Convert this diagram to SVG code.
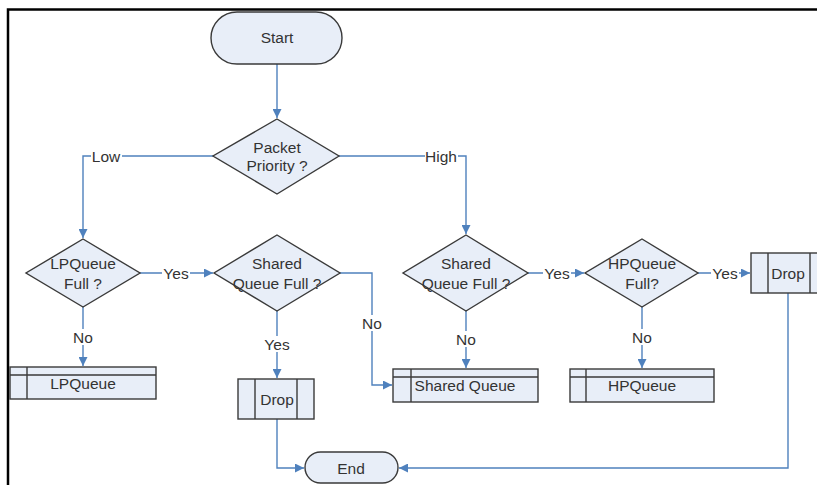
<svg xmlns="http://www.w3.org/2000/svg" width="817" height="485" viewBox="0 0 817 485">
<defs>
<style>
.shape{fill:#e8eef8;stroke:#3a3a3a;stroke-width:1.4}
.inner{fill:none;stroke:#3a3a3a;stroke-width:1.4}
.conn{fill:none;stroke:#4f81bd;stroke-width:1.4}
.t{font-family:"Liberation Sans",Arial,sans-serif;font-size:15.5px;fill:#333;text-anchor:middle;dominant-baseline:central}
.lbl{font-family:"Liberation Sans",Arial,sans-serif;font-size:15.5px;fill:#333;text-anchor:middle;dominant-baseline:central}
.bg{fill:#fff}
</style>
<marker id="ah" viewBox="0 0 10 10" refX="10" refY="5" markerWidth="9" markerHeight="9" markerUnits="userSpaceOnUse" orient="auto">
<path d="M0,0 L10,5 L0,10 z" fill="#4f81bd"/>
</marker>
</defs>
<rect width="817" height="485" fill="#fff"/>
<path d="M8,485 V9.5 H817" fill="none" stroke="#000" stroke-width="2.5"/>

<g id="connectors">
<path class="conn" d="M277,64 V118" marker-end="url(#ah)"/>
<path class="conn" d="M213,156 H83 V238" marker-end="url(#ah)"/>
<path class="conn" d="M339,156 H466 V234" marker-end="url(#ah)"/>
<path class="conn" d="M140,273 H213" marker-end="url(#ah)"/>
<path class="conn" d="M83,307 V366" marker-end="url(#ah)"/>
<path class="conn" d="M277,311 V378" marker-end="url(#ah)"/>
<path class="conn" d="M340,273 H372 V385 H392" marker-end="url(#ah)"/>
<path class="conn" d="M528,273 H584" marker-end="url(#ah)"/>
<path class="conn" d="M698,273 H750" marker-end="url(#ah)"/>
<path class="conn" d="M466,311 V368" marker-end="url(#ah)"/>
<path class="conn" d="M642,307 V368" marker-end="url(#ah)"/>
<path class="conn" d="M277,419 V468 H304" marker-end="url(#ah)"/>
<path class="conn" d="M788,293 V468 H399" marker-end="url(#ah)"/>
<rect class="bg" x="91" y="148" width="31" height="16"/>
<text class="lbl" x="106" y="156">Low</text>
<rect class="bg" x="425" y="148" width="33" height="16"/>
<text class="lbl" x="441" y="156">High</text>
<rect class="bg" x="162" y="265" width="28" height="16"/>
<text class="lbl" x="176" y="273">Yes</text>
<rect class="bg" x="543" y="265" width="28" height="16"/>
<text class="lbl" x="557" y="273">Yes</text>
<rect class="bg" x="711" y="265" width="28" height="16"/>
<text class="lbl" x="725" y="273">Yes</text>
<rect class="bg" x="73" y="329" width="20" height="16"/>
<text class="lbl" x="83" y="337">No</text>
<rect class="bg" x="263" y="336" width="28" height="16"/>
<text class="lbl" x="277" y="344">Yes</text>
<rect class="bg" x="362" y="315" width="20" height="16"/>
<text class="lbl" x="372" y="323">No</text>
<rect class="bg" x="456" y="331" width="20" height="16"/>
<text class="lbl" x="466" y="339">No</text>
<rect class="bg" x="632" y="329" width="20" height="16"/>
<text class="lbl" x="642" y="337">No</text>
</g>

<g id="start">
<rect class="shape" x="211" y="12" width="131" height="52" rx="26"/>
<text class="t" x="277" y="37">Start</text>
</g>

<g id="packet-priority">
<path class="shape" d="M277,119 L339,156 L277,194 L213,156 Z"/>
<text class="t" x="277" y="147">Packet</text>
<text class="t" x="277" y="165">Priority ?</text>
</g>

<g id="lpqueue-full">
<path class="shape" d="M83,239 L140,273 L83,307 L26,273 Z"/>
<text class="t" x="83" y="263">LPQueue</text>
<text class="t" x="83" y="283">Full ?</text>
</g>

<g id="shared-full-1">
<path class="shape" d="M277,235 L340,273 L277,311 L214,273 Z"/>
<text class="t" x="277" y="263">Shared</text>
<text class="t" x="277" y="283">Queue Full ?</text>
</g>

<g id="shared-full-2">
<path class="shape" d="M466,235 L528,273 L466,311 L403,273 Z"/>
<text class="t" x="466" y="263">Shared</text>
<text class="t" x="466" y="283">Queue Full ?</text>
</g>

<g id="hpqueue-full">
<path class="shape" d="M642,239 L698,273 L642,307 L585,273 Z"/>
<text class="t" x="642" y="263">HPQueue</text>
<text class="t" x="642" y="283">Full?</text>
</g>

<g id="lpqueue">
<rect class="shape" x="10" y="367" width="146" height="32"/>
<path class="inner" d="M10,375 H156 M27,367 V399"/>
<text class="t" x="83" y="383">LPQueue</text>
</g>

<g id="shared-queue">
<rect class="shape" x="393" y="369" width="145" height="33"/>
<path class="inner" d="M393,377 H538 M411,369 V402"/>
<text class="t" x="465" y="385">Shared Queue</text>
</g>

<g id="hpqueue">
<rect class="shape" x="570" y="369" width="144" height="33"/>
<path class="inner" d="M570,377 H714 M586,369 V402"/>
<text class="t" x="642" y="385">HPQueue</text>
</g>

<g id="drop-1">
<rect class="shape" x="238" y="379" width="76" height="40"/>
<path class="inner" d="M255,379 V419 M297,379 V419"/>
<text class="t" x="277" y="399">Drop</text>
</g>

<g id="drop-2">
<rect class="shape" x="751" y="253" width="76" height="40"/>
<path class="inner" d="M768,253 V293 M810,253 V293"/>
<text class="t" x="788" y="273">Drop</text>
</g>

<g id="end">
<rect class="shape" x="305" y="452" width="93" height="31" rx="15.5"/>
<text class="t" x="351" y="468">End</text>
</g>
</svg>
